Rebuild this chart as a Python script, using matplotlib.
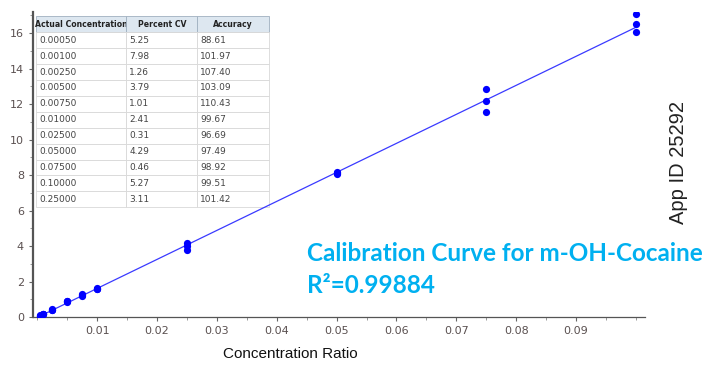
import numpy as np
import matplotlib
matplotlib.use('Agg')
import matplotlib.pyplot as plt
from matplotlib.ticker import MultipleLocator

# calibration points (replicates per level)
conc = [0.0005, 0.0005, 0.0005, 0.001, 0.001, 0.001, 0.0025, 0.0025, 0.0025,
        0.005, 0.005, 0.005, 0.0075, 0.0075, 0.0075, 0.01, 0.01, 0.01,
        0.025, 0.025, 0.025, 0.05, 0.05, 0.05, 0.075, 0.075, 0.075,
        0.1, 0.1, 0.1]
response = [0.07, 0.08, 0.09, 0.16, 0.17, 0.18, 0.38, 0.41, 0.43,
            0.85, 0.88, 0.90, 1.18, 1.24, 1.30, 1.56, 1.59, 1.62,
            3.80, 4.00, 4.20, 8.05, 8.10, 8.15, 11.57, 12.19, 12.86,
            16.07, 16.50, 17.08]

# fitted line
fit_slope = 163.5
fit_intercept = -0.02
fit_x = [0.0, 0.1]

# table values
table_cols = ['Actual Concentration', 'Percent CV', 'Accuracy']
actual_conc = ['0.00050', '0.00100', '0.00250', '0.00500', '0.00750', '0.01000',
               '0.02500', '0.05000', '0.07500', '0.10000', '0.25000']
percent_cv = ['5.25', '7.98', '1.26', '3.79', '1.01', '2.41', '0.31', '4.29',
              '0.46', '5.27', '3.11']
accuracy = ['88.61', '101.97', '107.40', '103.09', '110.43', '99.67', '96.69',
            '97.49', '98.92', '99.51', '101.42']

xticks = [0.01, 0.02, 0.03, 0.04, 0.05, 0.06, 0.07, 0.08, 0.09]
yticks = [0, 2, 4, 6, 8, 10, 12, 14, 16]

fig = plt.figure(figsize=(7.19, 3.70), dpi=100)
ax = fig.add_axes([0.046, 0.143, 0.851, 0.825])

fx = np.array(fit_x)
ax.plot(fx, fit_slope * fx + fit_intercept, color='#3a3aff', linewidth=0.9, zorder=2)
ax.plot(conc, response, 'o', color='#0000ff', markersize=5.2, markeredgewidth=0, zorder=3)

ax.set_xlim(-0.0007, 0.1015)
ax.set_ylim(0, 17.2)
ax.set_xticks(xticks)
ax.set_xticklabels([f'{t:.2f}' for t in xticks])
ax.set_yticks(yticks)
ax.xaxis.set_minor_locator(MultipleLocator(0.005))
ax.yaxis.set_minor_locator(MultipleLocator(1))

for s in ['top', 'right']:
    ax.spines[s].set_visible(False)
ax.spines['left'].set_color('#555555')
ax.spines['left'].set_linewidth(1.6)
ax.spines['bottom'].set_color('#555555')
ax.spines['bottom'].set_linewidth(0.9)
ax.tick_params(axis='both', which='major', labelsize=8, labelcolor='#5a5050',
               color='#666666', length=3, width=0.8)
ax.tick_params(axis='both', which='minor', color='#888888', length=2, width=0.6)

# table inset
tbl = ax.table(cellText=list(zip(actual_conc, percent_cv, accuracy)),
               colLabels=table_cols, colWidths=[0.388, 0.306, 0.306],
               bbox=[0.005, 0.36, 0.38, 0.625], cellLoc='left')
tbl.auto_set_font_size(False)
for (r, c), cell in tbl.get_celld().items():
    cell.set_edgecolor('#d8d8d8')
    cell.set_linewidth(0.6)
    cell.PAD = 0.04
    if r == 0:
        cell.set_facecolor('#dde7f0')
        cell.set_edgecolor('#a0b0c0')
        cell.get_text().set_ha('center')
        cell.get_text().set_fontweight('bold')
        cell.get_text().set_fontsize(5.6)
        cell.get_text().set_color('#222222')
    else:
        cell.get_text().set_fontsize(6.5)
        cell.get_text().set_color('#444444')

fig.text(290 / 719, 0.043, 'Concentration Ratio', fontsize=11,
         family='Liberation Sans', color='#111111', ha='center', va='center')
fig.text(0.427, 0.315, 'Calibration Curve for m-OH-Cocaine', color='#00b0f0',
         fontsize=17.5, fontweight='bold', family='Lato', va='center')
fig.text(0.427, 0.228, 'R²=0.99884', color='#00b0f0',
         fontsize=17.5, fontweight='bold', family='Lato', va='center')
fig.text(0.943, 0.56, 'App ID 25292', rotation=90, fontsize=14.5,
         family='Liberation Sans', color='#222222', ha='center', va='center')

fig.savefig('out.png', dpi=100)
